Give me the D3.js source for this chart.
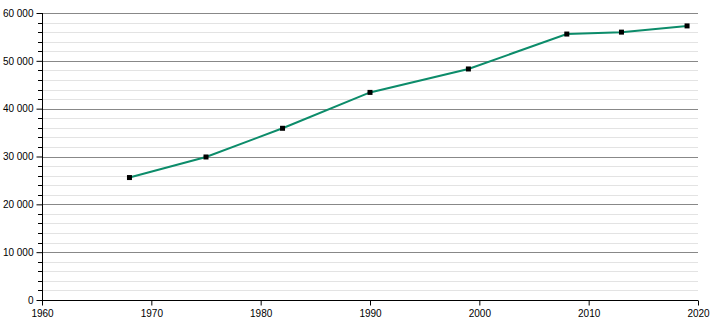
<!DOCTYPE html>
<html lang="en">
    <head>
        <meta charset="utf-8">
        <title>Population chart</title>
        <script src="https://d3js.org/d3.v7.min.js"></script>
        <style>
            body { margin: 0; background: #fff; }
            text { font-family: "Liberation Sans", Arial, sans-serif; font-size: 10px; fill: #000; }
        </style>
    </head>
    <body>
        <div id="chart_area"></div>
        <script type="text/javascript">
            var years = [1968, 1975, 1982, 1990, 1999, 2008, 2013, 2019];
            var population = [25600, 29900, 35900, 43400, 48300, 55600, 56000, 57300];
            var x_ticks = [1960, 1970, 1980, 1990, 2000, 2010, 2020];
            var y_ticks = [0, 10000, 20000, 30000, 40000, 50000, 60000];

            var width = 710, height = 320;
            var margin = {left: 42, right: 12, top: 13, bottom: 20};

            var svg = d3.select('#chart_area').append("svg").attr("width", width).attr("height", height);

            var x = d3.scaleLinear().domain([1960, 2020]).range([margin.left, width - margin.right]);
            var y = d3.scaleLinear().domain([0, 60000]).range([height - margin.bottom, margin.top]);

            var fmt = function(d){ return d3.format(",")(d).replace(/,/g, " "); };

            // minor grid every 2000
            var minor = d3.range(0, 60001, 2000).filter(function(d){ return d % 10000 != 0; });
            svg.append("g").selectAll("line").data(minor).join("line")
                .attr("x1", x(1960)).attr("x2", x(2020))
                .attr("y1", function(d){ return Math.round(y(d)) + 0.5; })
                .attr("y2", function(d){ return Math.round(y(d)) + 0.5; })
                .attr("stroke", "#e3e3e3").attr("stroke-width", 1);

            // major grid
            svg.append("g").selectAll("line").data(y_ticks.slice(1)).join("line")
                .attr("x1", x(1960)).attr("x2", x(2020))
                .attr("y1", function(d){ return Math.round(y(d)) + 0.5; })
                .attr("y2", function(d){ return Math.round(y(d)) + 0.5; })
                .attr("stroke", "#888").attr("stroke-width", 1);

            // minor y ticks
            svg.append("g").selectAll("line").data(minor).join("line")
                .attr("x1", x(1960) - 4).attr("x2", x(1960))
                .attr("y1", function(d){ return Math.round(y(d)) + 0.5; })
                .attr("y2", function(d){ return Math.round(y(d)) + 0.5; })
                .attr("stroke", "#000");

            var yAxis = d3.axisLeft(y).tickValues(y_ticks).tickFormat(fmt).tickSize(6).tickPadding(3);
            var yg = svg.append("g").attr("transform", "translate(" + (Math.round(x(1960)) + 0.5) + ",0)").call(yAxis);
            yg.select(".domain").attr("d", "M0," + y(60000) + "V" + y(0));

            var xAxis = d3.axisBottom(x).tickValues(x_ticks).tickFormat(d3.format("d")).tickSize(5).tickPadding(4);
            var xg = svg.append("g").attr("transform", "translate(0," + (Math.round(y(0)) + 0.5) + ")").call(xAxis);
            xg.select(".domain").attr("d", "M" + x(1960) + ",0H" + x(2020));

            svg.selectAll(".domain, .tick line").attr("stroke", "#000");
            svg.selectAll(".tick text").style("font-size", "10px").attr("fill", "#000");

            var line = d3.line()
                .x(function(d, i){ return x(years[i]); })
                .y(function(d){ return y(d); });

            svg.append("path").datum(population)
                .attr("d", line)
                .attr("fill", "none")
                .attr("stroke", "#0c8c6a")
                .attr("stroke-width", 2);

            svg.append("g").selectAll("rect").data(population).join("rect")
                .attr("x", function(d, i){ return x(years[i]) - 2.5; })
                .attr("y", function(d){ return y(d) - 2.5; })
                .attr("width", 5).attr("height", 5)
                .attr("fill", "#000");
        </script>
    </body>
</html>
